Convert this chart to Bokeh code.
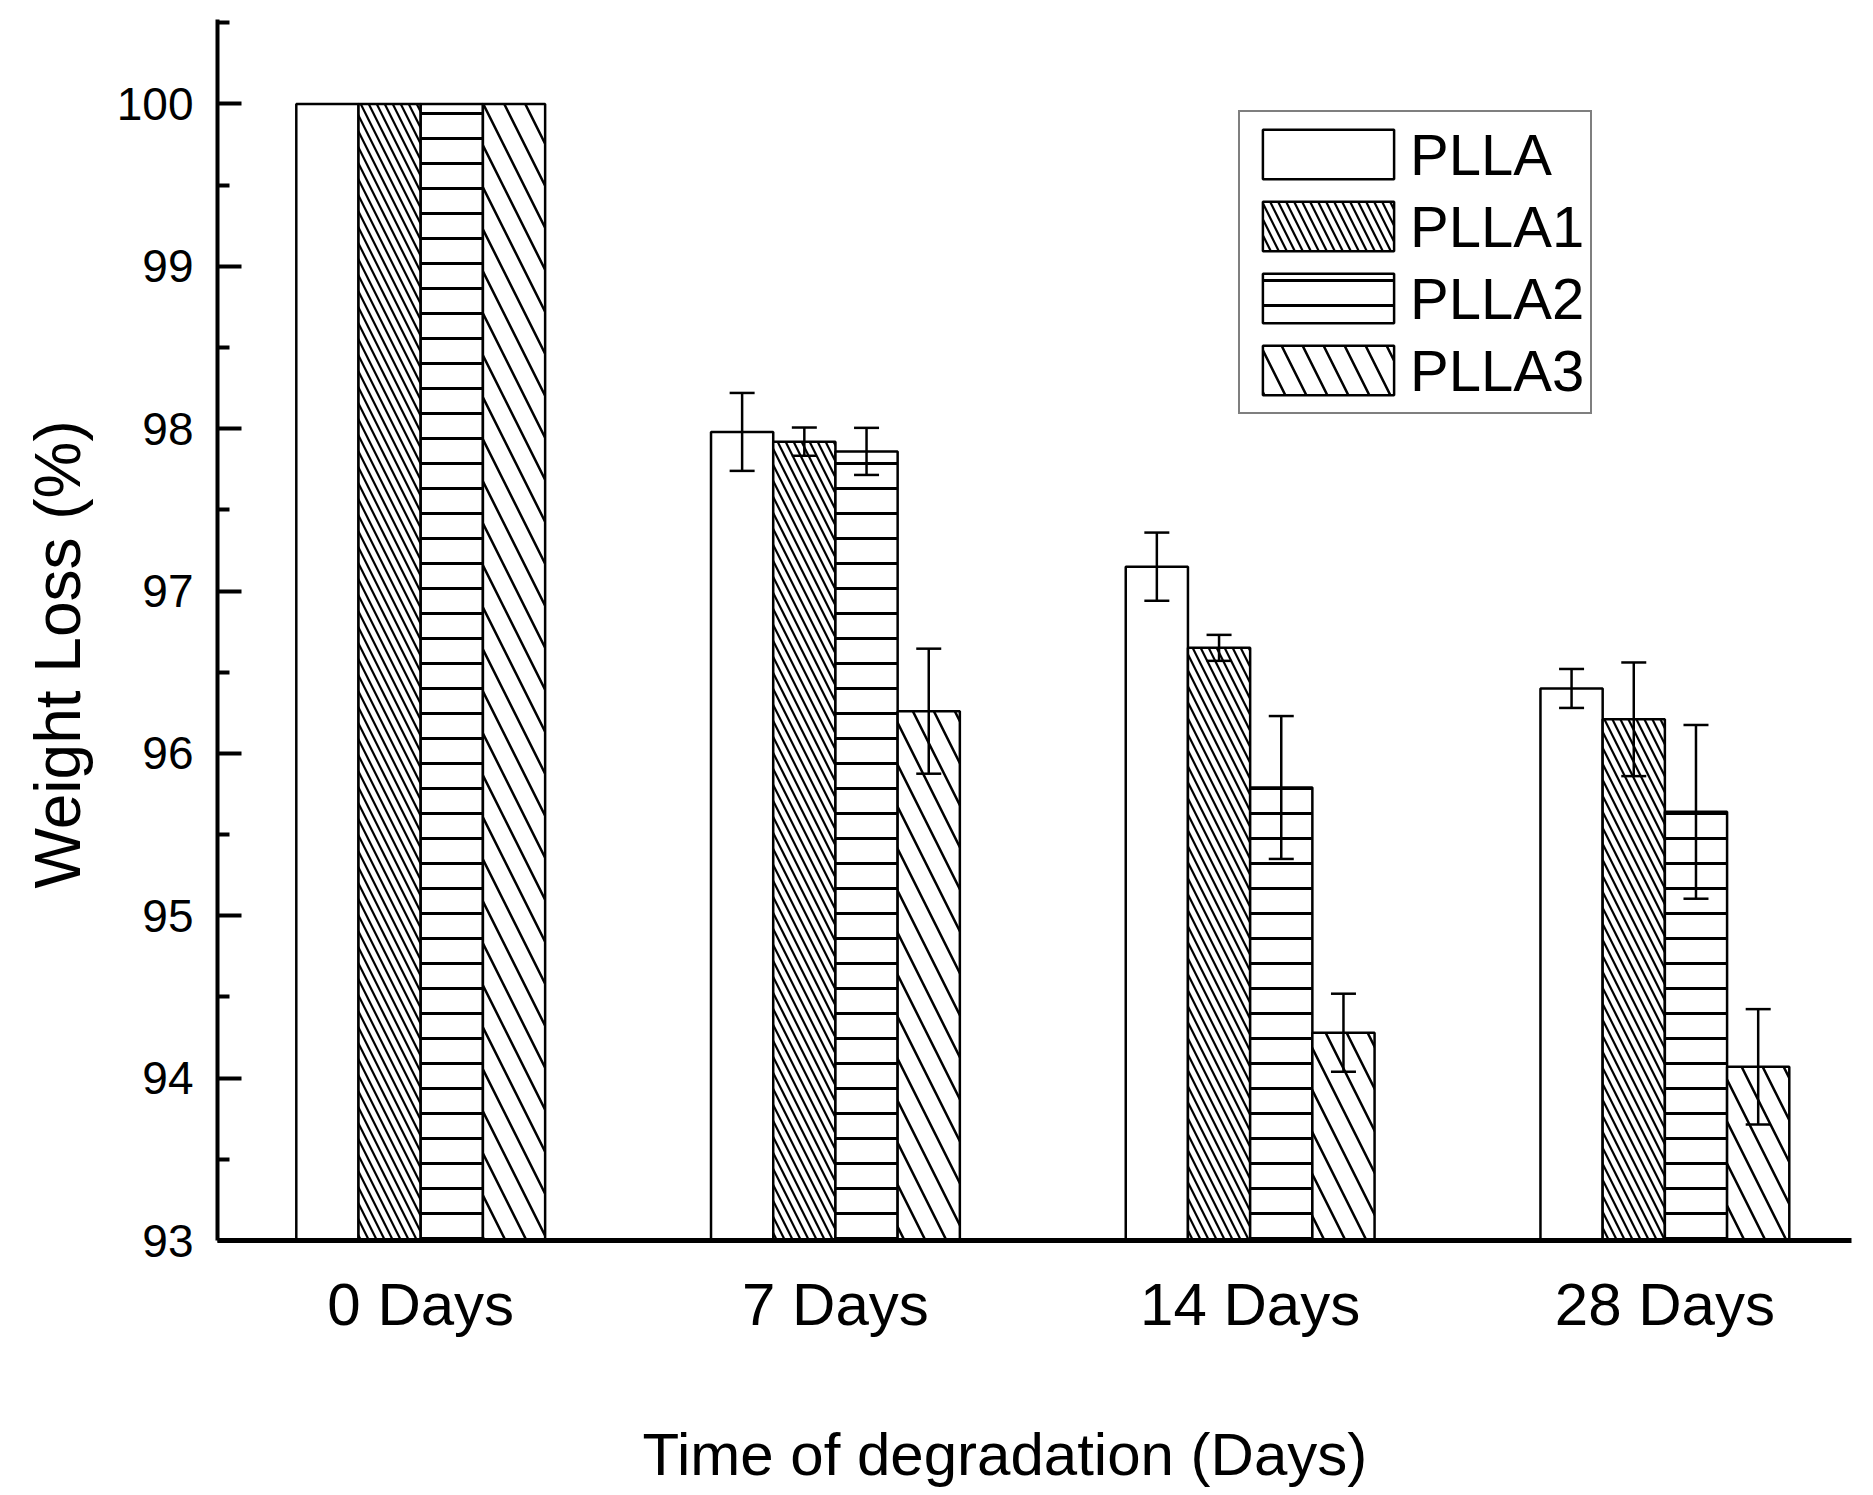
from bokeh.plotting import figure
from bokeh.models import (ColumnDataSource, Range1d, FixedTicker, Legend, LegendItem,
                          Whisker, TeeHead, Title)
from bokeh.transform import dodge
from bokeh.embed import file_html
from bokeh.resources import INLINE

days = ["0 Days", "7 Days", "14 Days", "28 Days"]
series = ["PLLA", "PLLA1", "PLLA2", "PLLA3"]

plla = [100.0, 97.98, 97.15, 96.40]
plla_err = [0.0, 0.24, 0.21, 0.12]
plla1 = [100.0, 97.92, 96.65, 96.21]
plla1_err = [0.0, 0.087, 0.08, 0.35]
plla2 = [100.0, 97.86, 95.79, 95.64]
plla2_err = [0.0, 0.145, 0.44, 0.535]
plla3 = [100.0, 96.26, 94.28, 94.07]
plla3_err = [0.0, 0.385, 0.24, 0.355]

y_ticks = [93, 94, 95, 96, 97, 98, 99, 100]
y_minor = [93.5, 94.5, 95.5, 96.5, 97.5, 98.5, 99.5, 100.5]

values = [plla, plla1, plla2, plla3]
errors = [plla_err, plla1_err, plla2_err, plla3_err]
offsets = [-0.225, -0.075, 0.075, 0.225]
hatches = [
    dict(hatch_pattern=" "),
    dict(hatch_pattern="\\", hatch_scale=16, hatch_weight=2.2, hatch_color="black"),
    dict(hatch_pattern="-", hatch_scale=25, hatch_weight=3, hatch_color="black"),
    dict(hatch_pattern="\\", hatch_scale=42, hatch_weight=2.5, hatch_color="black"),
]

FONT = "Liberation Sans"
day_index = list(range(len(days)))

p = figure(x_range=Range1d(-0.49, 3.45), y_range=Range1d(93, 100.52),
           frame_width=1634, frame_height=1221,
           min_border_left=216, min_border_right=8, min_border_top=19, min_border_bottom=200,
           output_backend="svg", toolbar_location=None)

p.xgrid.visible = False
p.ygrid.visible = False
p.outline_line_color = None
p.background_fill_color = "white"
p.border_fill_color = "white"

items = []
for name, vals, errs, off, h in zip(series, values, errors, offsets, hatches):
    src = ColumnDataSource(dict(xi=day_index, top=vals,
                                upper=[v + e for v, e in zip(vals, errs)],
                                lower=[v - e for v, e in zip(vals, errs)]))
    r = p.vbar(x=dodge("xi", off), top="top", bottom=93, width=0.15,
               source=src, fill_color="white", line_color="black", line_width=2.5, **h)
    items.append(LegendItem(label=name, renderers=[r]))
    esrc = ColumnDataSource(dict(xi=day_index[1:], upper=src.data["upper"][1:],
                                 lower=src.data["lower"][1:]))
    w = Whisker(base=dodge("xi", off), upper="upper", lower="lower", source=esrc,
                level="overlay", line_width=2.5, line_color="black",
                upper_head=TeeHead(size=25, line_width=2.5, line_color="black"),
                lower_head=TeeHead(size=25, line_width=2.5, line_color="black"))
    p.add_layout(w)

legend = Legend(items=items, location=(1021, 826), margin=0, padding=6, spacing=0,
                glyph_width=164, glyph_height=62, label_height=72, label_standoff=0,
                label_text_font=FONT, label_text_font_size="58px", label_text_color="black",
                border_line_color="black", border_line_width=2, background_fill_alpha=1.0)
p.add_layout(legend)

# y axis
ya = p.yaxis[0]
ya.ticker = FixedTicker(ticks=y_ticks, minor_ticks=y_minor)
ya.major_label_text_font = FONT
ya.major_label_text_font_size = "46px"
ya.major_label_text_color = "black"
ya.major_label_standoff = 24
ya.axis_line_width = 4
ya.major_tick_line_width = 4
ya.minor_tick_line_width = 4
ya.major_tick_in = 24
ya.major_tick_out = 0
ya.minor_tick_in = 12
ya.minor_tick_out = 0

# x axis
xa = p.xaxis[0]
xa.ticker = FixedTicker(ticks=day_index, minor_ticks=[])
xa.major_label_overrides = {i: d for i, d in zip(day_index, days)}
xa.major_label_text_font = FONT
xa.major_label_text_font_size = "60px"
xa.major_label_text_color = "black"
xa.major_label_standoff = 24
xa.axis_line_width = 5
xa.major_tick_line_color = None
xa.minor_tick_line_color = None

# axis titles as side titles, offset like the original (slightly off-centre)
p.add_layout(Title(text="Weight Loss (%)", align="left", offset=352,
                   text_font=FONT, text_font_size="64px", text_font_style="normal",
                   text_color="black", standoff=39), "left")
p.add_layout(Title(text="Time of degradation (Days)", align="left", offset=425,
                   text_font=FONT, text_font_size="60px", text_font_style="normal",
                   text_color="black", standoff=156), "below")

open("out.html", "w").write(file_html(p, INLINE))
